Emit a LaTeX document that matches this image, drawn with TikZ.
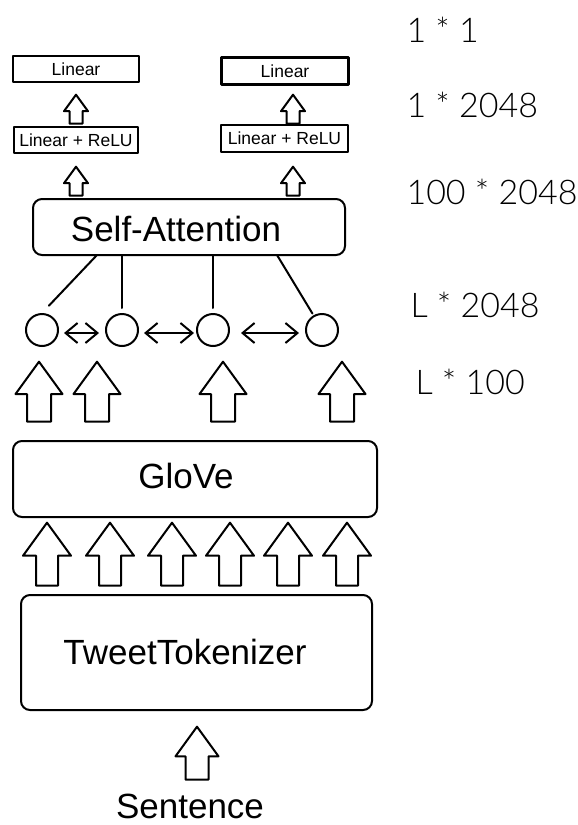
\documentclass[tikz,border=0pt]{standalone}
\usepackage{fontspec}
\setmainfont{Liberation Sans}
\newfontfamily\dimfont{Lato Light}
\usetikzlibrary{shapes.arrows,arrows.meta}

\tikzset{
  layer/.style={draw,line width=2.6pt,inner sep=0pt,font=\fontsize{17.5}{20}\selectfont},
  block/.style={draw,line width=2pt,rounded corners=9pt,inner sep=0pt},
  big/.style={font=\fontsize{35}{40}\selectfont,inner sep=0pt},
  token/.style={draw,circle,line width=2pt,minimum size=32pt,inner sep=0pt},
  wire/.style={line width=2pt},
  link/.style={line width=2pt,{Straight Barb[length=12pt,width=20pt]}-{Straight Barb[length=12pt,width=20pt]}},
  upblock/.style n args={3}{single arrow,draw,line width=2pt,rotate=90,anchor=tip,
    minimum height=#1,minimum width=0pt,inner xsep=0pt,inner ysep=#3,
    single arrow head extend=#2,single arrow tip angle=72},
  dim/.style={anchor=west,font=\dimfont\fontsize{34}{38}\selectfont}
}

\begin{document}
\begin{tikzpicture}[x=1pt,y=-1pt,line cap=round,line join=round]
  \useasboundingbox (0,0) rectangle (578,825);
  % output heads
  \node[layer,minimum width=126pt,minimum height=26pt] (lin1) at (76,69) {Linear};
  \node[layer,minimum width=127pt,minimum height=27pt] (lin2) at (285,71) {Linear};
  \node[layer,minimum width=124pt,minimum height=26pt] (relu1) at (76,140) {Linear + ReLU};
  \node[layer,minimum width=127pt,minimum height=27pt] (relu2) at (284.5,138.5) {Linear + ReLU};
  \node[upblock={29pt}{5.5pt}{5.5pt}] (h1) at (76,93) {};
  \node[upblock={29pt}{5.5pt}{5.5pt}] (h2) at (293,93) {};
  \node[upblock={29pt}{5.5pt}{5.5pt}] (h3) at (76,165) {};
  \node[upblock={29pt}{5.5pt}{5.5pt}] (h4) at (293,165) {};
  % attention
  \node[block,minimum width=312pt,minimum height=56pt] (attn) at (189,227) {};
  \node[big] (attntext) at (176,229) {Self-Attention};
  \node[token] (c1) at (42,330) {};
  \node[token] (c2) at (122,330) {};
  \node[token] (c3) at (213,330) {};
  \node[token] (c4) at (322,330) {};
  \coordinate (a1) at (97,255);
  \coordinate (a4) at (277,255);
  \draw[wire,shorten >=10pt] (a1) -- (c1.north);
  \draw[wire,shorten >=5pt] (c2 |- attn.south) -- (c2);
  \draw[wire,shorten >=5pt] (c3 |- attn.south) -- (c3);
  \draw[wire,shorten >=2pt] (a4) -- (c4.120);
  \draw[link,shorten <=5pt,shorten >=6pt] ([yshift=-3pt]c1.east) -- ([yshift=-3pt]c2.west);
  \draw[link,shorten <=5pt,shorten >=2pt] ([yshift=-3pt]c2.east) -- ([yshift=-3pt]c3.west);
  \draw[link,shorten <=11pt,shorten >=6pt] ([yshift=-3pt]c3.east) -- ([yshift=-3pt]c4.west);
  \foreach \x [count=\i] in {39,97,223,342}
    \node[upblock={60pt}{11.5pt}{11pt}] (e\i) at (\x,360) {};
  % embedding and tokenizer
  \node[block,minimum width=364pt,minimum height=76pt] (glove) at (195,479) {};
  \node[big] (glovetext) at (186,476) {GloVe};
  \foreach \x [count=\i] in {47,110,172,230,288,347}
    \node[upblock={63pt}{13pt}{10pt}] (g\i) at (\x,521) {};
  \node[block,minimum width=351pt,minimum height=115pt] (tok) at (196.5,652.5) {};
  \node[big] (toktext) at (185,652) {TweetTokenizer};
  \node[upblock={53pt}{10pt}{10.5pt}] (s1) at (197,725) {};
  \node[big] (sent) at (190,806) {Sentence};
  % sizes
  \node[dim] (d1) at (403,30) {1 * 1};
  \node[dim] (d2) at (403,105) {1 * 2048};
  \node[dim] (d3) at (403,192) {100 * 2048};
  \node[dim] (d4) at (407,305) {L * 2048};
  \node[dim] (d5) at (412,382) {L * 100};
\end{tikzpicture}
\end{document}
